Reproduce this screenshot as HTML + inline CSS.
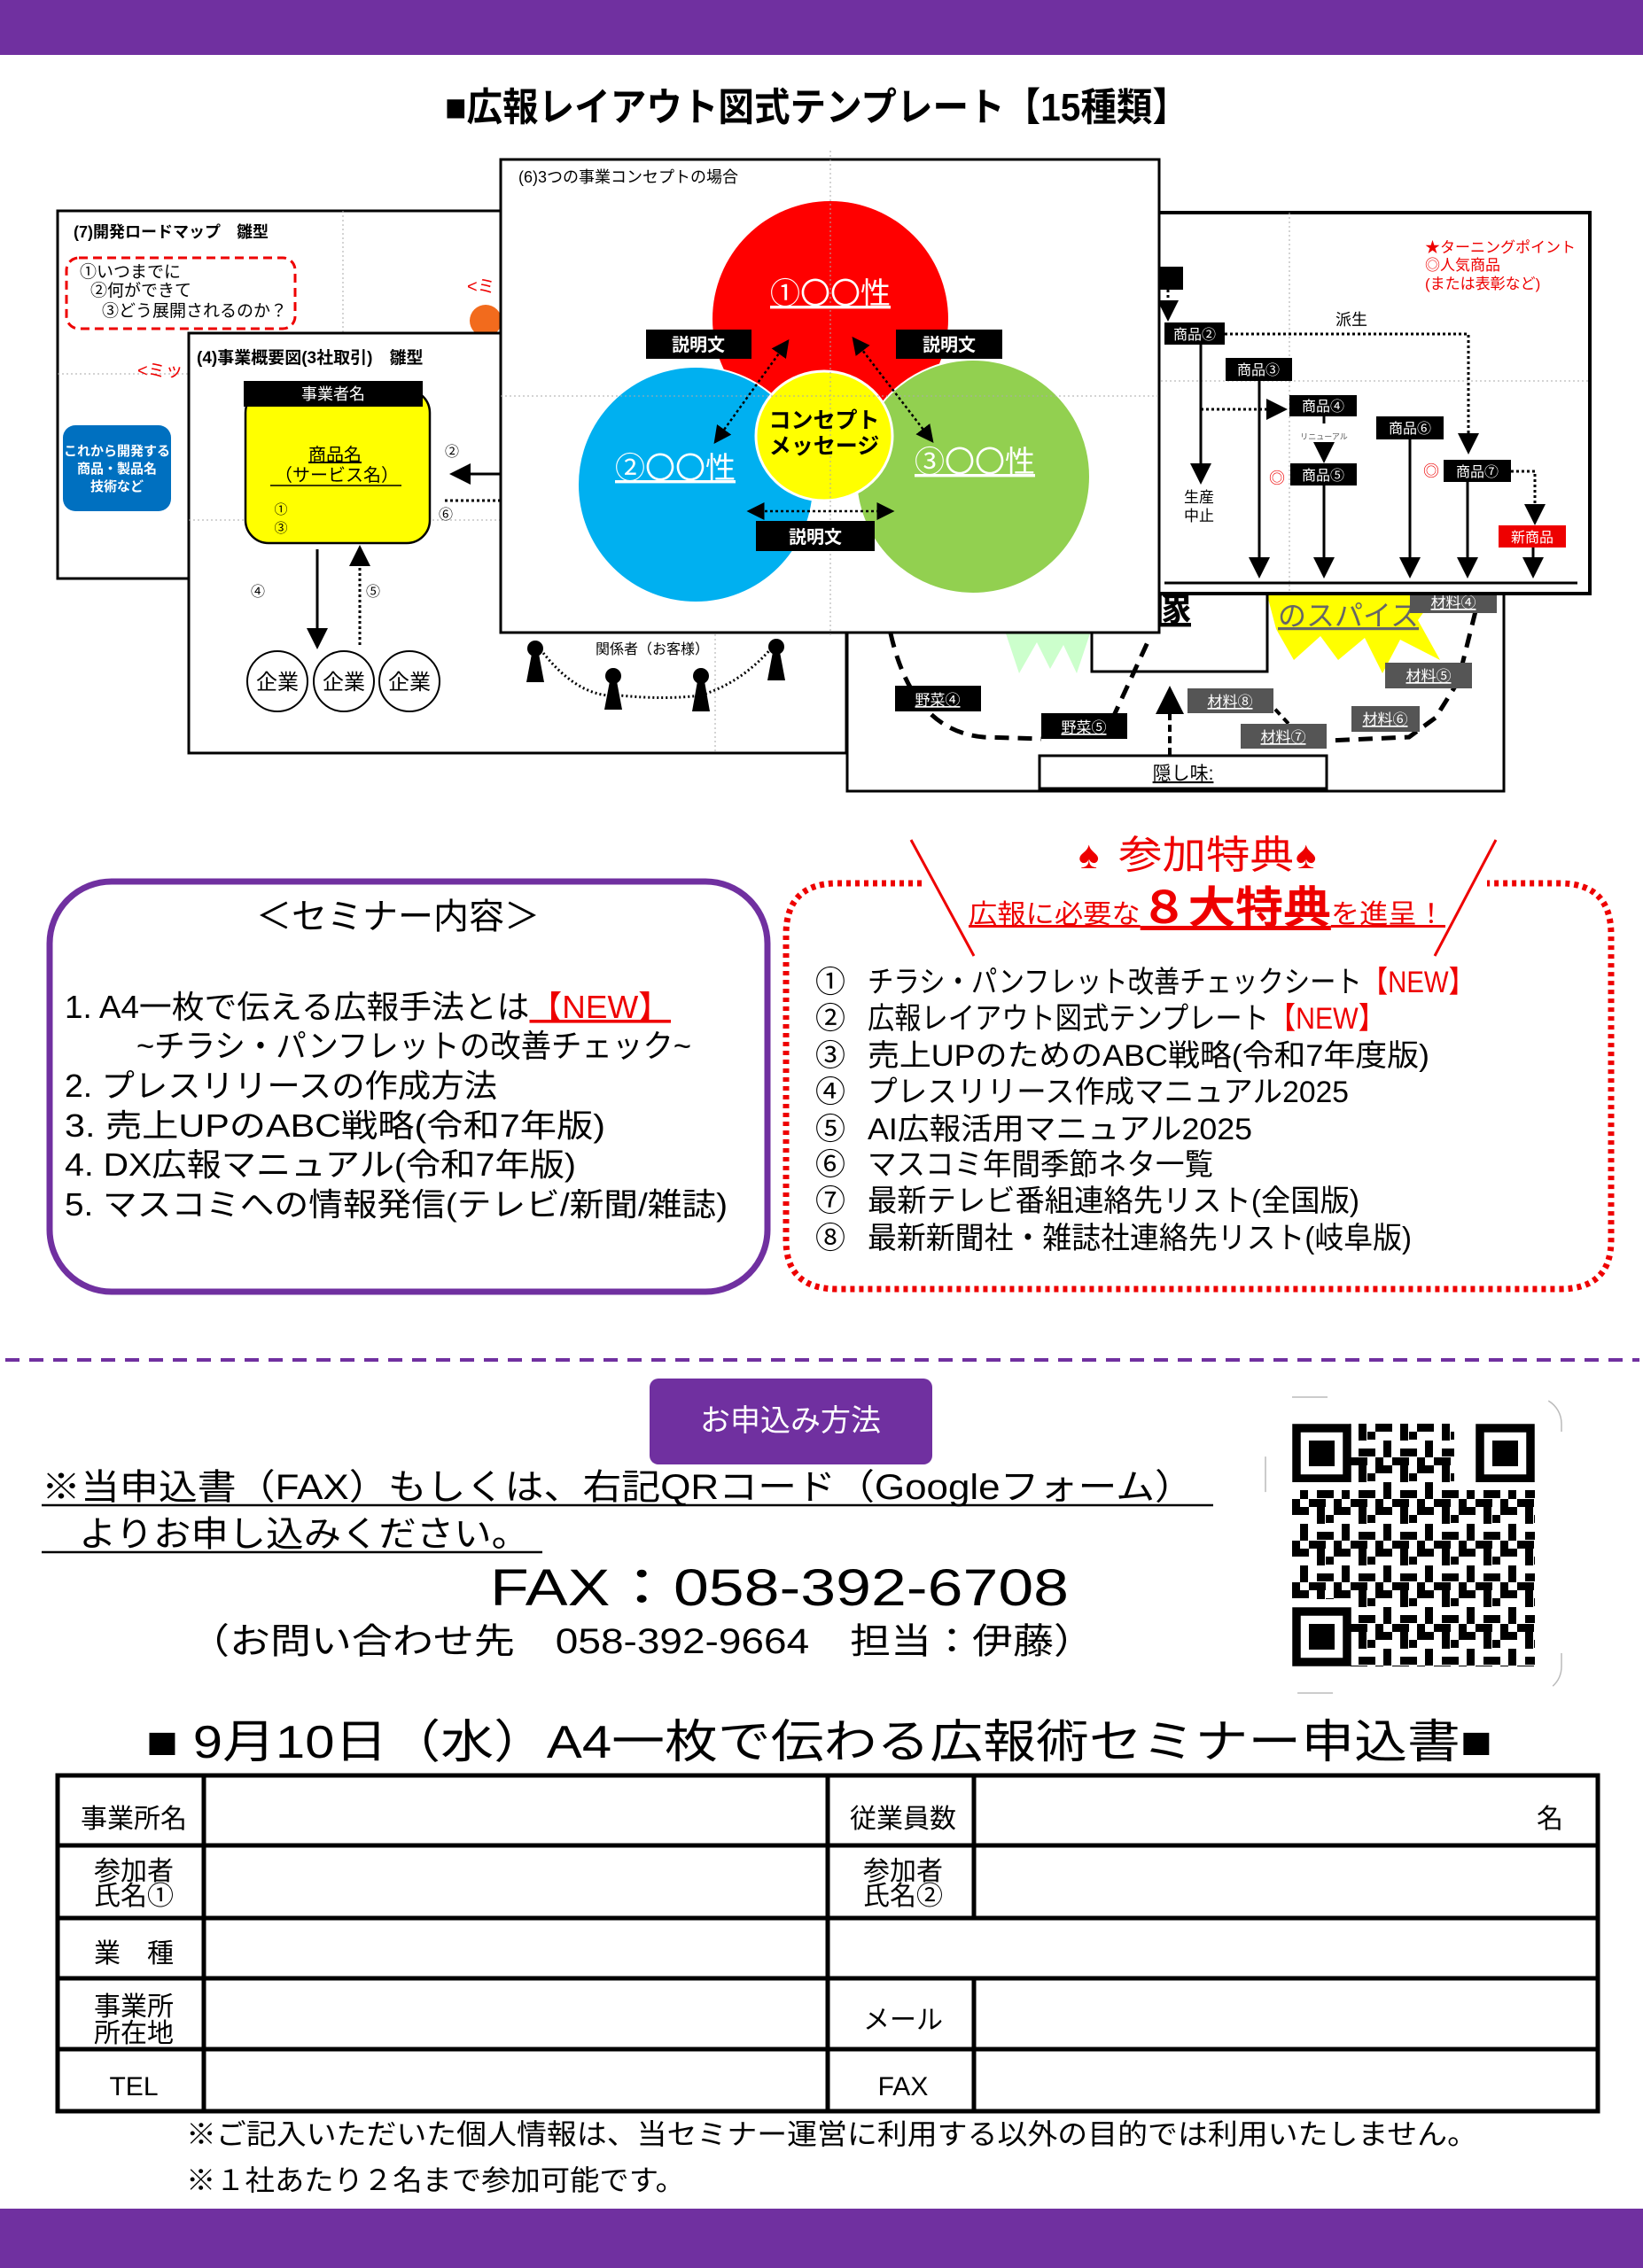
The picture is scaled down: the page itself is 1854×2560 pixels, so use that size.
<!DOCTYPE html>
<html><head><meta charset="utf-8">
<style>
html,body{margin:0;padding:0;background:#fff;}
svg{display:block;}
text{font-family:"Liberation Sans","Noto Sans CJK JP",sans-serif;}
</style></head>
<body>
<svg width="1854" height="2560" viewBox="0 0 1854 2560" xmlns="http://www.w3.org/2000/svg">
<defs>
<pattern id="qrp" x="1458" y="1607" width="47" height="47" patternUnits="userSpaceOnUse">
<rect x="0" y="0" width="19" height="9" fill="#000"/><rect x="28" y="0" width="9" height="19" fill="#000"/>
<rect x="9" y="19" width="9" height="19" fill="#000"/><rect x="28" y="28" width="19" height="9" fill="#000"/>
<rect x="0" y="38" width="9" height="9" fill="#000"/><rect x="38" y="9" width="9" height="9" fill="#000"/>
<rect x="19" y="38" width="19" height="9" fill="#000"/>
</pattern>
<marker id="ah" markerWidth="8" markerHeight="8" refX="7" refY="4" orient="auto-start-reverse"><path d="M0,0 L8,4 L0,8 z" fill="#000"/></marker>
</defs>

<rect x="0" y="0" width="1854" height="62" fill="#7030a0"/>
<text x="502" y="136" font-size="44" font-weight="bold" textLength="839" lengthAdjust="spacingAndGlyphs">■広報レイアウト図式テンプレート【15種類】</text>

<!-- panel 7 -->
<rect x="65" y="238" width="500" height="415" fill="#fff" stroke="#000" stroke-width="3"/>
<line x1="65" y1="422" x2="565" y2="422" stroke="#aaa" stroke-dasharray="2,3"/>
<line x1="387" y1="238" x2="387" y2="653" stroke="#aaa" stroke-dasharray="2,3"/>
<text x="83" y="268" font-size="18" font-weight="bold">(7)開発ロードマップ　雛型</text>
<rect x="75" y="291" width="258" height="80" rx="14" fill="none" stroke="#e00" stroke-width="3" stroke-dasharray="10,6"/>
<text x="90" y="313" font-size="19">①いつまでに</text>
<text x="102" y="334" font-size="19">②何ができて</text>
<text x="115" y="357" font-size="19">③どう展開されるのか？</text>
<text x="155" y="425" font-size="20" fill="#e00">&lt;ミッ</text>
<text x="527" y="330" font-size="20" fill="#e00">&lt;ミ</text>
<circle cx="548" cy="362" r="18" fill="#f26b1d"/>
<rect x="71" y="480" width="122" height="97" rx="14" fill="#0070c0"/>
<text x="132" y="514" font-size="15" font-weight="bold" fill="#fff" text-anchor="middle">これから開発する</text>
<text x="132" y="534" font-size="15" font-weight="bold" fill="#fff" text-anchor="middle">商品・製品名</text>
<text x="132" y="554" font-size="15" font-weight="bold" fill="#fff" text-anchor="middle">技術など</text>

<!-- lower right panel -->
<rect x="956" y="600" width="741" height="293" fill="#fff" stroke="#000" stroke-width="3"/>
<polygon points="1430,672 1620,672 1600,700 1625,745 1580,722 1560,760 1540,720 1510,745 1490,718 1460,745 1440,710" fill="#ffff00"/>
<polygon points="1135,715 1230,715 1215,760 1200,728 1185,755 1170,725 1150,760" fill="#ccffcc"/>
<rect x="1232" y="640" width="198" height="118" fill="#fff" stroke="#000" stroke-width="3"/>
<text x="1300" y="700" font-size="44" font-weight="bold" text-decoration="underline">像</text>
<text x="1442" y="706" font-size="32" fill="#666" text-decoration="underline">のスパイス</text>
<path d="M1005,715 Q1030,825 1110,832 L1175,834" fill="none" stroke="#000" stroke-width="5" stroke-dasharray="16,10"/>
<path d="M1255,812 L1295,725" fill="none" stroke="#000" stroke-width="5" stroke-dasharray="16,10"/>
<path d="M1665,690 L1645,770 L1620,810 L1590,832 L1497,836" fill="none" stroke="#000" stroke-width="5" stroke-dasharray="16,10"/>
<path d="M1420,780 L1455,818" fill="none" stroke="#000" stroke-width="4" stroke-dasharray="8,6"/>
<line x1="1320" y1="852" x2="1320" y2="778" stroke="#000" stroke-width="4" stroke-dasharray="8,5" marker-end="url(#ah)"/>
<rect x="1010" y="774" width="97" height="29" fill="#000"/><text x="1058" y="796" font-size="17" fill="#fff" text-anchor="middle" text-decoration="underline">野菜④</text>
<rect x="1175" y="805" width="97" height="29" fill="#000"/><text x="1223" y="827" font-size="17" fill="#fff" text-anchor="middle" text-decoration="underline">野菜⑤</text>
<rect x="1340" y="777" width="97" height="28" fill="#555"/><text x="1388" y="798" font-size="17" fill="#fff" text-anchor="middle" text-decoration="underline">材料⑧</text>
<rect x="1400" y="817" width="97" height="28" fill="#555"/><text x="1448" y="838" font-size="17" fill="#fff" text-anchor="middle" text-decoration="underline">材料⑦</text>
<rect x="1525" y="797" width="77" height="29" fill="#555"/><text x="1563" y="818" font-size="17" fill="#fff" text-anchor="middle" text-decoration="underline">材料⑥</text>
<rect x="1563" y="748" width="98" height="29" fill="#555"/><text x="1612" y="769" font-size="17" fill="#fff" text-anchor="middle" text-decoration="underline">材料⑤</text>
<rect x="1591" y="665" width="98" height="27" fill="#555"/><text x="1640" y="686" font-size="17" fill="#fff" text-anchor="middle" text-decoration="underline">材料④</text>
<rect x="1173" y="853" width="324" height="37" fill="#fff" stroke="#000" stroke-width="3"/>
<text x="1335" y="880" font-size="21" text-anchor="middle" text-decoration="underline">隠し味:</text>

<!-- right panel -->
<rect x="1300" y="240" width="494" height="430" fill="#fff" stroke="#000" stroke-width="4"/>
<line x1="1300" y1="430" x2="1794" y2="430" stroke="#aaa" stroke-dasharray="2,3"/>
<line x1="1455" y1="240" x2="1455" y2="670" stroke="#aaa" stroke-dasharray="2,3"/>
<text x="1608" y="285" font-size="17" fill="#e00">★ターニングポイント</text>
<text x="1608" y="305" font-size="17" fill="#e00">◎人気商品</text>
<text x="1608" y="326" font-size="17" fill="#e00">(または表彰など)</text>
<rect x="1300" y="301" width="35" height="26" fill="#000"/>
<line x1="1318" y1="327" x2="1318" y2="360" stroke="#000" stroke-width="3" stroke-dasharray="3,3" marker-end="url(#ah)"/>
<text x="1507" y="367" font-size="18">派生</text>
<polyline points="1382,377 1657,377 1657,510" fill="none" stroke="#000" stroke-width="3" stroke-dasharray="3,3" marker-end="url(#ah)"/>
<line x1="1355" y1="462" x2="1450" y2="462" stroke="#000" stroke-width="3" stroke-dasharray="3,3" marker-end="url(#ah)"/>
<line x1="1355" y1="389" x2="1355" y2="544" stroke="#000" stroke-width="3" marker-end="url(#ah)"/>
<text x="1353" y="567" font-size="17" text-anchor="middle">生産</text>
<text x="1353" y="588" font-size="17" text-anchor="middle">中止</text>
<line x1="1421" y1="430" x2="1421" y2="650" stroke="#000" stroke-width="3" marker-end="url(#ah)"/>
<line x1="1494" y1="470" x2="1494" y2="478" stroke="#000" stroke-width="3"/>
<text x="1494" y="496" font-size="9" fill="#555" text-anchor="middle">リニューアル</text>
<line x1="1494" y1="502" x2="1494" y2="520" stroke="#000" stroke-width="3" marker-end="url(#ah)"/>
<line x1="1494" y1="548" x2="1494" y2="650" stroke="#000" stroke-width="3" marker-end="url(#ah)"/>
<line x1="1591" y1="496" x2="1591" y2="650" stroke="#000" stroke-width="3" marker-end="url(#ah)"/>
<line x1="1656" y1="544" x2="1656" y2="650" stroke="#000" stroke-width="3" marker-end="url(#ah)"/>
<polyline points="1705,532 1732,532 1732,590" fill="none" stroke="#000" stroke-width="3" stroke-dasharray="3,3" marker-end="url(#ah)"/>
<line x1="1730" y1="618" x2="1730" y2="650" stroke="#000" stroke-width="3" marker-end="url(#ah)"/>
<line x1="1314" y1="658" x2="1780" y2="658" stroke="#000" stroke-width="3"/>
<rect x="1314" y="364" width="68" height="25" fill="#000"/><text x="1348" y="383" font-size="16" fill="#fff" text-anchor="middle">商品②</text>
<rect x="1383" y="404" width="75" height="26" fill="#000"/><text x="1420" y="423" font-size="16" fill="#fff" text-anchor="middle">商品③</text>
<rect x="1455" y="446" width="76" height="24" fill="#000"/><text x="1493" y="464" font-size="16" fill="#fff" text-anchor="middle">商品④</text>
<rect x="1456" y="523" width="75" height="25" fill="#000"/><text x="1493" y="542" font-size="16" fill="#fff" text-anchor="middle">商品⑤</text>
<rect x="1553" y="470" width="76" height="26" fill="#000"/><text x="1591" y="489" font-size="16" fill="#fff" text-anchor="middle">商品⑥</text>
<rect x="1629" y="519" width="76" height="25" fill="#000"/><text x="1667" y="538" font-size="16" fill="#fff" text-anchor="middle">商品⑦</text>
<rect x="1691" y="593" width="76" height="25" fill="#e00"/><text x="1729" y="612" font-size="16" fill="#fff" text-anchor="middle">新商品</text>
<text x="1441" y="546" font-size="18" fill="#e00" text-anchor="middle">◎</text>
<text x="1615" y="538" font-size="18" fill="#e00" text-anchor="middle">◎</text>

<!-- panel 4 -->
<rect x="213" y="376" width="742" height="474" fill="#fff" stroke="#000" stroke-width="3"/>
<line x1="213" y1="587" x2="955" y2="587" stroke="#aaa" stroke-dasharray="2,3"/>
<line x1="807" y1="376" x2="807" y2="850" stroke="#aaa" stroke-dasharray="2,3"/>
<text x="222" y="410" font-size="19" font-weight="bold">(4)事業概要図(3社取引)　雛型</text>
<rect x="277" y="440" width="208" height="173" rx="26" fill="#ffff00" stroke="#000" stroke-width="2.5"/>
<rect x="275" y="430" width="202" height="29" fill="#000"/>
<text x="376" y="451" font-size="18" fill="#fff" text-anchor="middle">事業者名</text>
<text x="378" y="520" font-size="20" text-anchor="middle" text-decoration="underline">商品名</text>
<text x="380" y="543" font-size="20" text-anchor="middle">（サービス名）</text>
<line x1="305" y1="548" x2="453" y2="548" stroke="#000" stroke-width="1.5"/>
<text x="317" y="580" font-size="15" text-anchor="middle">①</text>
<text x="317" y="601" font-size="15" text-anchor="middle">③</text>
<line x1="358" y1="620" x2="358" y2="730" stroke="#000" stroke-width="3" marker-end="url(#ah)"/>
<line x1="406" y1="728" x2="406" y2="618" stroke="#000" stroke-width="3" stroke-dasharray="3,3" marker-end="url(#ah)"/>
<text x="291" y="673" font-size="16" text-anchor="middle">④</text>
<text x="421" y="673" font-size="16" text-anchor="middle">⑤</text>
<text x="510" y="515" font-size="16" text-anchor="middle">②</text>
<text x="503" y="586" font-size="16" text-anchor="middle">⑥</text>
<line x1="565" y1="535" x2="510" y2="535" stroke="#000" stroke-width="3" marker-end="url(#ah)"/>
<line x1="502" y1="565" x2="565" y2="565" stroke="#000" stroke-width="3" stroke-dasharray="3,3"/>
<circle cx="313" cy="769" r="34" fill="#fff" stroke="#000" stroke-width="2"/>
<circle cx="388" cy="769" r="34" fill="#fff" stroke="#000" stroke-width="2"/>
<circle cx="462" cy="769" r="34" fill="#fff" stroke="#000" stroke-width="2"/>
<text x="313" y="778" font-size="24" text-anchor="middle">企業</text>
<text x="388" y="778" font-size="24" text-anchor="middle">企業</text>
<text x="462" y="778" font-size="24" text-anchor="middle">企業</text>
<path d="M604,725 Q650,790 700,785 Q750,790 790,785 Q840,770 876,725" fill="none" stroke="#000" stroke-width="3" stroke-dasharray="2,3"/>
<text x="736" y="738" font-size="16" text-anchor="middle">関係者（お客様）</text>
<g fill="#000">
<circle cx="604" cy="732" r="9"/><polygon points="600,738 608,738 614,770 594,770"/>
<circle cx="692" cy="763" r="9"/><polygon points="688,769 696,769 702,801 682,801"/>
<circle cx="791" cy="763" r="9"/><polygon points="787,769 795,769 801,803 781,803"/>
<circle cx="876" cy="730" r="9"/><polygon points="872,736 880,736 886,768 866,768"/>
</g>

<!-- center panel -->
<rect x="565" y="180" width="743" height="534" fill="#fff" stroke="#000" stroke-width="3"/>
<text x="585" y="206" font-size="18">(6)3つの事業コンセプトの場合</text>
<circle cx="937" cy="360" r="133" fill="#ff0000"/>
<circle cx="785" cy="547" r="133" fill="#00b0f0" stroke="#fff" stroke-width="2"/>
<circle cx="1098" cy="538" r="132" fill="#92d050" stroke="#fff" stroke-width="2"/>
<ellipse cx="930" cy="492" rx="77" ry="73" fill="#ffff00" stroke="#fff" stroke-width="3"/>
<line x1="937" y1="170" x2="937" y2="720" stroke="#aaa" stroke-dasharray="2,3"/>
<line x1="565" y1="447" x2="1308" y2="447" stroke="#aaa" stroke-dasharray="2,3"/>
<text x="937" y="343" font-size="34" fill="#fff" text-anchor="middle" text-decoration="underline">①〇〇性</text>
<text x="762" y="540" font-size="34" fill="#fff" text-anchor="middle" text-decoration="underline">②〇〇性</text>
<text x="1100" y="533" font-size="34" fill="#fff" text-anchor="middle" text-decoration="underline">③〇〇性</text>
<text x="930" y="483" font-size="25" font-weight="bold" text-anchor="middle">コンセプト</text>
<text x="930" y="512" font-size="25" font-weight="bold" text-anchor="middle">メッセージ</text>
<line x1="889" y1="385" x2="807" y2="499" stroke="#000" stroke-width="2.5" stroke-dasharray="3,3" marker-end="url(#ah)" marker-start="url(#ah)"/>
<line x1="963" y1="382" x2="1052" y2="498" stroke="#000" stroke-width="2.5" stroke-dasharray="3,3" marker-end="url(#ah)" marker-start="url(#ah)"/>
<line x1="845" y1="577" x2="1007" y2="577" stroke="#000" stroke-width="2.5" stroke-dasharray="3,3" marker-end="url(#ah)" marker-start="url(#ah)"/>
<rect x="729" y="372" width="119" height="33" fill="#000"/><text x="788" y="396" font-size="20" font-weight="bold" fill="#fff" text-anchor="middle">説明文</text>
<rect x="1011" y="372" width="120" height="33" fill="#000"/><text x="1071" y="396" font-size="20" font-weight="bold" fill="#fff" text-anchor="middle">説明文</text>
<rect x="853" y="588" width="134" height="34" fill="#000"/><text x="920" y="613" font-size="20" font-weight="bold" fill="#fff" text-anchor="middle">説明文</text>

<!-- seminar box -->
<rect x="56" y="995" width="810" height="463" rx="70" fill="#fff" stroke="#7030a0" stroke-width="7"/>
<text x="449" y="1048" font-size="40" text-anchor="middle">＜セミナー内容＞</text>
<text x="73" y="1149" font-size="36" textLength="684" lengthAdjust="spacingAndGlyphs">1. A4一枚で伝える広報手法とは<tspan fill="#e00" text-decoration="underline">【NEW】</tspan></text>
<text x="154" y="1193" font-size="36" textLength="626" lengthAdjust="spacingAndGlyphs">~チラシ・パンフレットの改善チェック~</text>
<text x="73" y="1238" font-size="36" textLength="488" lengthAdjust="spacingAndGlyphs">2. プレスリリースの作成方法</text>
<text x="73" y="1283" font-size="36" textLength="610" lengthAdjust="spacingAndGlyphs">3. 売上UPのABC戦略(令和7年版)</text>
<text x="73" y="1327" font-size="36" textLength="577" lengthAdjust="spacingAndGlyphs">4. DX広報マニュアル(令和7年版)</text>
<text x="73" y="1372" font-size="36" textLength="748" lengthAdjust="spacingAndGlyphs">5. マスコミへの情報発信(テレビ/新聞/雑誌)</text>

<!-- benefits box -->
<path d="M1040,997 L945,997 Q887,997 887,1055 L887,1400 Q887,1455 945,1455 L1760,1455 Q1818,1455 1818,1400 L1818,1055 Q1818,997 1760,997 L1678,997" fill="none" stroke="#e00" stroke-width="7" stroke-dasharray="5,5"/>
<line x1="1028" y1="948" x2="1099" y2="1079" stroke="#e00" stroke-width="3"/>
<line x1="1688" y1="948" x2="1619" y2="1079" stroke="#e00" stroke-width="3"/>
<text x="1217" y="980" font-size="44" fill="#e00">♠</text>
<text x="1262" y="980" font-size="44" fill="#e00" textLength="198" lengthAdjust="spacingAndGlyphs">参加特典</text>
<text x="1462" y="980" font-size="44" fill="#e00">♠</text>
<text x="1093" y="1042" font-size="30" fill="#e00" text-decoration="underline" textLength="538" lengthAdjust="spacingAndGlyphs">広報に必要な<tspan font-size="50" font-weight="bold">８大特典</tspan>を進呈！</text>
<g font-size="34">
<text x="920" y="1120">①</text><text x="979" y="1120" textLength="685" lengthAdjust="spacingAndGlyphs">チラシ・パンフレット改善チェックシート<tspan fill="#e00">【NEW】</tspan></text>
<text x="920" y="1161">②</text><text x="979" y="1161" textLength="584" lengthAdjust="spacingAndGlyphs">広報レイアウト図式テンプレート<tspan fill="#e00">【NEW】</tspan></text>
<text x="920" y="1203">③</text><text x="979" y="1203" textLength="634" lengthAdjust="spacingAndGlyphs">売上UPのためのABC戦略(令和7年度版)</text>
<text x="920" y="1244">④</text><text x="979" y="1244" textLength="543" lengthAdjust="spacingAndGlyphs">プレスリリース作成マニュアル2025</text>
<text x="920" y="1286">⑤</text><text x="979" y="1286" textLength="434" lengthAdjust="spacingAndGlyphs">AI広報活用マニュアル2025</text>
<text x="920" y="1326">⑥</text><text x="979" y="1326" textLength="390" lengthAdjust="spacingAndGlyphs">マスコミ年間季節ネタ一覧</text>
<text x="920" y="1367">⑦</text><text x="979" y="1367" textLength="555" lengthAdjust="spacingAndGlyphs">最新テレビ番組連絡先リスト(全国版)</text>
<text x="920" y="1409">⑧</text><text x="979" y="1409" textLength="614" lengthAdjust="spacingAndGlyphs">最新新聞社・雑誌社連絡先リスト(岐阜版)</text>
</g>

<line x1="6" y1="1535" x2="1850" y2="1535" stroke="#7030a0" stroke-width="4" stroke-dasharray="16,11"/>

<rect x="733" y="1556" width="319" height="97" rx="10" fill="#7030a0"/>
<text x="892" y="1615" font-size="34" fill="#fff" text-anchor="middle">お申込み方法</text>
<text x="47" y="1692" font-size="40" textLength="1300" lengthAdjust="spacingAndGlyphs">※当申込書（FAX）もしくは、右記QRコード（Googleフォーム）</text>
<line x1="47" y1="1699" x2="1369" y2="1699" stroke="#000" stroke-width="2.5"/>
<text x="89" y="1745" font-size="40" textLength="508" lengthAdjust="spacingAndGlyphs">よりお申し込みください。</text>
<line x1="47" y1="1752" x2="612" y2="1752" stroke="#000" stroke-width="2.5"/>
<text x="553" y="1812" font-size="58" textLength="653" lengthAdjust="spacingAndGlyphs">FAX：058-392-6708</text>
<text x="213" y="1866" font-size="40" textLength="1022" lengthAdjust="spacingAndGlyphs">（お問い合わせ先　058-392-9664　担当：伊藤）</text>

<rect x="1428" y="1577" width="334" height="334" rx="30" fill="none" stroke="#bbb" stroke-width="1.5" stroke-dasharray="40,250"/>
<rect x="1523" y="1607" width="118" height="274" fill="url(#qrp)"/>
<rect x="1458" y="1682" width="274" height="123" fill="url(#qrp)"/>
<rect x="1641" y="1805" width="91" height="76" fill="url(#qrp)"/>
<g fill="none" stroke="#000" stroke-width="9.5">
<rect x="1463" y="1612" width="57" height="57"/><rect x="1670" y="1612" width="57" height="57"/><rect x="1463" y="1819" width="57" height="57"/>
</g>
<g fill="#000">
<rect x="1477" y="1626" width="29" height="29"/><rect x="1684" y="1626" width="29" height="29"/><rect x="1477" y="1833" width="29" height="29"/>
</g>
<rect x="1458" y="1673" width="72" height="9" fill="#fff"/>
<rect x="1660" y="1673" width="72" height="9" fill="#fff"/>

<text x="165" y="1984" font-size="52" textLength="1519" lengthAdjust="spacingAndGlyphs">■ 9月10日（水）A4一枚で伝わる広報術セミナー申込書■</text>
<g stroke="#000" stroke-width="5" fill="none">
<rect x="65" y="2004" width="1738" height="379"/>
<line x1="65" y1="2083" x2="1803" y2="2083"/>
<line x1="65" y1="2165" x2="1803" y2="2165"/>
<line x1="65" y1="2233" x2="1803" y2="2233"/>
<line x1="65" y1="2313" x2="1803" y2="2313"/>
<line x1="230" y1="2004" x2="230" y2="2383"/>
<line x1="934" y1="2004" x2="934" y2="2383"/>
<line x1="1099" y1="2004" x2="1099" y2="2165"/>
<line x1="1099" y1="2233" x2="1099" y2="2383"/>
</g>
<g font-size="30" text-anchor="middle">
<text x="151" y="2063">事業所名</text>
<text x="1019" y="2063">従業員数</text>
<text x="1749" y="2063">名</text>
<text x="151" y="2122">参加者</text><text x="151" y="2150">氏名①</text>
<text x="1019" y="2122">参加者</text><text x="1019" y="2150">氏名②</text>
<text x="151" y="2215">業　種</text>
<text x="151" y="2275">事業所</text><text x="151" y="2305">所在地</text>
<text x="1019" y="2290">メール</text>
<text x="151" y="2365">TEL</text>
<text x="1019" y="2365">FAX</text>
</g>
<text x="210" y="2420" font-size="32" textLength="1457" lengthAdjust="spacingAndGlyphs">※ご記入いただいた個人情報は、当セミナー運営に利用する以外の目的では利用いたしません。</text>
<text x="210" y="2472" font-size="32" textLength="563" lengthAdjust="spacingAndGlyphs">※１社あたり２名まで参加可能です。</text>

<rect x="0" y="2493" width="1854" height="67" fill="#7030a0"/>
</svg>
</body></html>
